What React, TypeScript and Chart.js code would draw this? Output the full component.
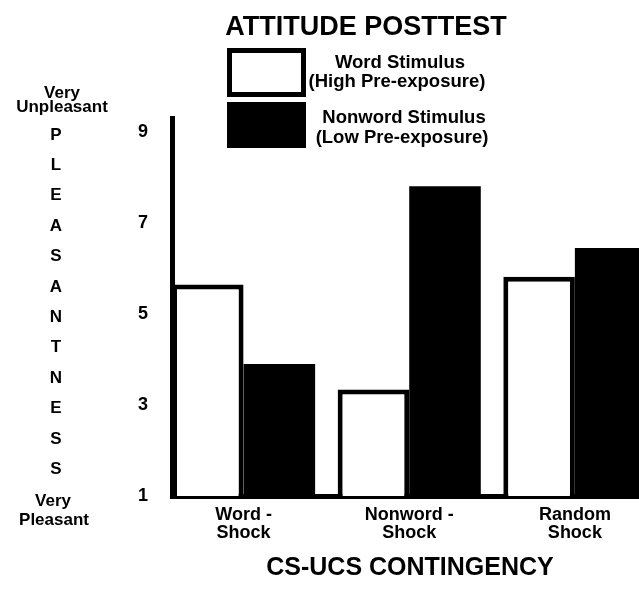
import React, { useEffect, useRef } from 'react';
import { Chart, registerables } from 'chart.js';

Chart.register(...registerables);

// ---- data ----
const categories: string[][] = [['Word -', 'Shock'], ['Nonword -', 'Shock'], ['Random', 'Shock']];
const seriesNames = ['Word Stimulus', 'Nonword Stimulus'];
const seriesNotes = ['(High Pre-exposure)', '(Low Pre-exposure)'];
const wordValues = [5.65, 3.34, 5.82];
const nonwordValues = [3.9, 7.81, 6.45];
const yTicks = [1, 3, 5, 7, 9];
const chartTitle = 'ATTITUDE POSTTEST';
const xTitle = 'CS-UCS CONTINGENCY';
const yTopLabel = ['Very', 'Unpleasant'];
const yWord = 'PLEASANTNESS';
const yBottomLabel = ['Very', 'Pleasant'];

const FONT = '"Liberation Sans", Arial, Helvetica, sans-serif';

const decoPlugin = {
  id: 'deco',
  afterDraw(chart: any) {
    const ctx: CanvasRenderingContext2D = chart.ctx;
    const ds = chart.data.datasets;
    ctx.save();
    ctx.fillStyle = '#000';
    ctx.textAlign = 'center';
    ctx.textBaseline = 'alphabetic';

    // title
    ctx.font = `bold 27px ${FONT}`;
    ctx.fillText(chartTitle, 366, 35);

    // legend boxes
    ctx.fillStyle = ds[0].backgroundColor;
    ctx.fillRect(227, 48, 79, 49);
    ctx.strokeStyle = ds[0].borderColor;
    ctx.lineWidth = 5;
    ctx.strokeRect(229.5, 50.5, 74, 44);
    ctx.fillStyle = ds[1].backgroundColor;
    ctx.fillRect(227, 102, 79, 46);

    // legend text
    ctx.fillStyle = '#000';
    ctx.font = `bold 18.5px ${FONT}`;
    ctx.fillText(seriesNames[0], 400, 68);
    ctx.fillText(seriesNotes[0], 397, 87);
    ctx.fillText(seriesNames[1], 404, 123);
    ctx.fillText(seriesNotes[1], 402, 143);

    // y column labels
    ctx.font = `bold 17px ${FONT}`;
    ctx.fillText(yTopLabel[0], 62, 98);
    ctx.fillText(yTopLabel[1], 62, 112);
    const letters = yWord.split('');
    letters.forEach((ch, i) => {
      ctx.fillText(ch, 56, 139.5 + i * 30.4);
    });
    ctx.fillText(yBottomLabel[0], 53, 506);
    ctx.fillText(yBottomLabel[1], 54, 525);

    // x title
    ctx.font = `bold 25px ${FONT}`;
    ctx.fillText(xTitle, 410, 575);
    ctx.restore();
  },
};

export default function App() {
  const ref = useRef<HTMLCanvasElement>(null);
  useEffect(() => {
    if (!ref.current) return;
    const chart = new Chart(ref.current, {
      type: 'bar',
      data: {
        datasets: [
          {
            label: seriesNames[0],
            data: categories.map((_, i) => ({ x: i, y: wordValues[i] })),
            backgroundColor: '#ffffff',
            borderColor: '#000000',
            borderWidth: 5,
            borderSkipped: 'start',
          },
          {
            label: seriesNames[1],
            data: categories.map((_, i) => ({ x: i, y: nonwordValues[i] })),
            backgroundColor: '#000000',
            borderWidth: 0,
          },
        ],
      },
      options: {
        responsive: false,
        animation: false,
        devicePixelRatio: 1,
        layout: { padding: { top: 118, left: 0, right: 0, bottom: 0 } },
        datasets: { bar: { categoryPercentage: 0.864, barPercentage: 1 } },
        plugins: {
          legend: { display: false },
          title: { display: false },
          tooltip: { enabled: false },
        },
        scales: {
          x: {
            type: 'linear',
            min: -0.432,
            max: 2.876,
            offset: false,
            z: 1,
            grid: { display: false, drawTicks: false, offset: false },
            border: { display: true, color: '#000', width: 5 },
            afterBuildTicks: (scale: any) => {
              scale.ticks = categories.map((_, i) => ({ value: i }));
            },
            afterFit: (scale: any) => {
              scale.height = 96;
            },
            ticks: {
              color: '#000',
              padding: 10,
              maxRotation: 0,
              autoSkip: false,
              font: { family: FONT, size: 18, weight: 'bold', lineHeight: 1.0 },
              callback: (v: any) => categories[v] ?? '',
            },
          },
          y: {
            type: 'linear',
            min: 1,
            max: 9.31,
            z: 1,
            grid: { display: false, drawTicks: false },
            border: { display: true, color: '#000', width: 5 },
            afterBuildTicks: (scale: any) => {
              scale.ticks = yTicks.map((v) => ({ value: v }));
            },
            afterFit: (scale: any) => {
              scale.width = 172;
            },
            ticks: {
              color: '#000',
              padding: 24,
              font: { family: FONT, size: 18, weight: 'bold' },
              callback: (v: any) => String(v),
            },
          },
        },
      } as any,
      plugins: [decoPlugin],
    });
    return () => chart.destroy();
  }, []);

  return (
    <div
      style={{
        position: 'fixed',
        left: 0,
        top: 0,
        width: 639,
        height: 592,
        overflow: 'hidden',
        background: '#fff',
      }}
    >
      <canvas ref={ref} width={720} height={592} style={{ width: 720, height: 592, display: 'block' }} />
    </div>
  );
}
